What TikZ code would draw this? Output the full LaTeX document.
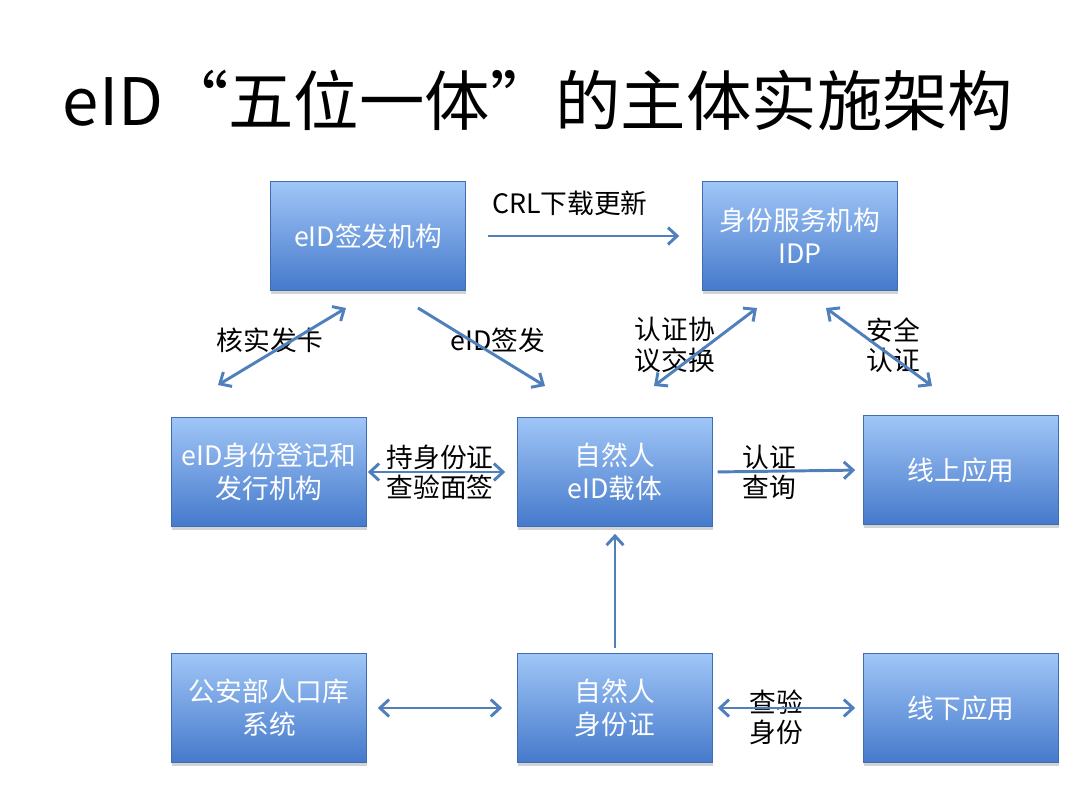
\documentclass[tikz,border=0pt]{standalone}
\usepackage{fontspec}
\setmainfont{Noto Sans CJK SC}
\usetikzlibrary{arrows.meta,shadows}
\definecolor{boxtop}{HTML}{A0C6F7}
\definecolor{boxbot}{HTML}{4579CB}
\definecolor{boxline}{HTML}{3E6DB3}
\definecolor{arrowblue}{HTML}{5080BC}
\tikzset{
  box/.style={rectangle,minimum width=4.875cm,minimum height=2.725cm,inner sep=0pt,
    align=center,text=white,top color=boxtop,bottom color=boxbot,draw=boxline,line width=0.4pt,
    drop shadow={opacity=0.35,shadow xshift=0.6pt,shadow yshift=-2.5pt},
    font=\fontsize{19pt}{23.5pt}\selectfont},
  lbl/.style={inner sep=0pt,align=center,font=\fontsize{19pt}{21.5pt}\selectfont},
  link/.style={draw=arrowblue,line width=2.1pt,-{Straight Barb[length=6.5pt,width=12pt]}},
  both/.style={link,{Straight Barb[length=6.5pt,width=12pt]}-{Straight Barb[length=6.5pt,width=12pt]}}
}
\begin{document}
\begin{tikzpicture}[x=0.025cm,y=-0.025cm]
\useasboundingbox (0,0) rectangle (1080,810);
\node[inner sep=0pt,font=\fontsize{46.5pt}{52pt}\selectfont] (title) at (538,100) {eID“五位一体”的主体实施架构};

\node[box] (sign) at (368,236) {eID签发机构};
\node[box] (idp) at (800,236) {身份服务机构\\IDP};
\node[box] (reg) at (269,472) {eID身份登记和\\发行机构};
\node[box] (carrier) at (615,472) {自然人\\eID载体};
\node[box] (online) at (961,470) {线上应用};
\node[box] (police) at (269,708) {公安部人口库\\系统};
\node[box] (card) at (615,708) {自然人\\身份证};
\node[box] (offline) at (961,708) {线下应用};

\node[lbl] (crl) at (570,203) {CRL下载更新};
\node[lbl] (verify) at (270,340) {核实发卡};
\node[lbl] (issue) at (498,340) {eID签发};
\node[lbl,align=left] (proto) at (675,345) {认证协\\议交换};
\node[lbl,align=left] (secure) at (893,345) {安全\\认证};
\node[lbl] (face) at (440,472) {持身份证\\查验面签};
\node[lbl] (query) at (769,472) {认证\\查询};
\node[lbl] (check) at (776,717) {查验\\身份};

\coordinate (v1) at (218,385);
\coordinate (v2) at (346,308);
\coordinate (e1) at (418,308);
\coordinate (e2) at (545,386);
\coordinate (p1) at (654,386);
\coordinate (p2) at (757,308);
\coordinate (s1) at (826,308);
\coordinate (s2) at (932,386);

\draw[link,shorten <=15.6pt,shorten >=16.3pt] (sign.east) -- (idp.west);
\draw[both] (v1) -- (v2);
\draw[link] (e1) -- (e2);
\draw[both] (p1) -- (p2);
\draw[both] (s1) -- (s2);
\draw[both,shorten <=0.7pt,shorten >=8.5pt] (reg.east) -- (carrier.west);
\draw[link,shorten <=3.5pt,shorten >=5.7pt] (carrier.east) -- (online.west);
\draw[link,shorten <=3.5pt,shorten >=5pt] (card.north) -- (carrier.south);
\draw[both,shorten <=7.8pt,shorten >=10.7pt] (police.east) -- (card.west);
\draw[both,shorten <=3.5pt,shorten >=5.7pt] (card.east) -- (offline.west);
\end{tikzpicture}
\end{document}
